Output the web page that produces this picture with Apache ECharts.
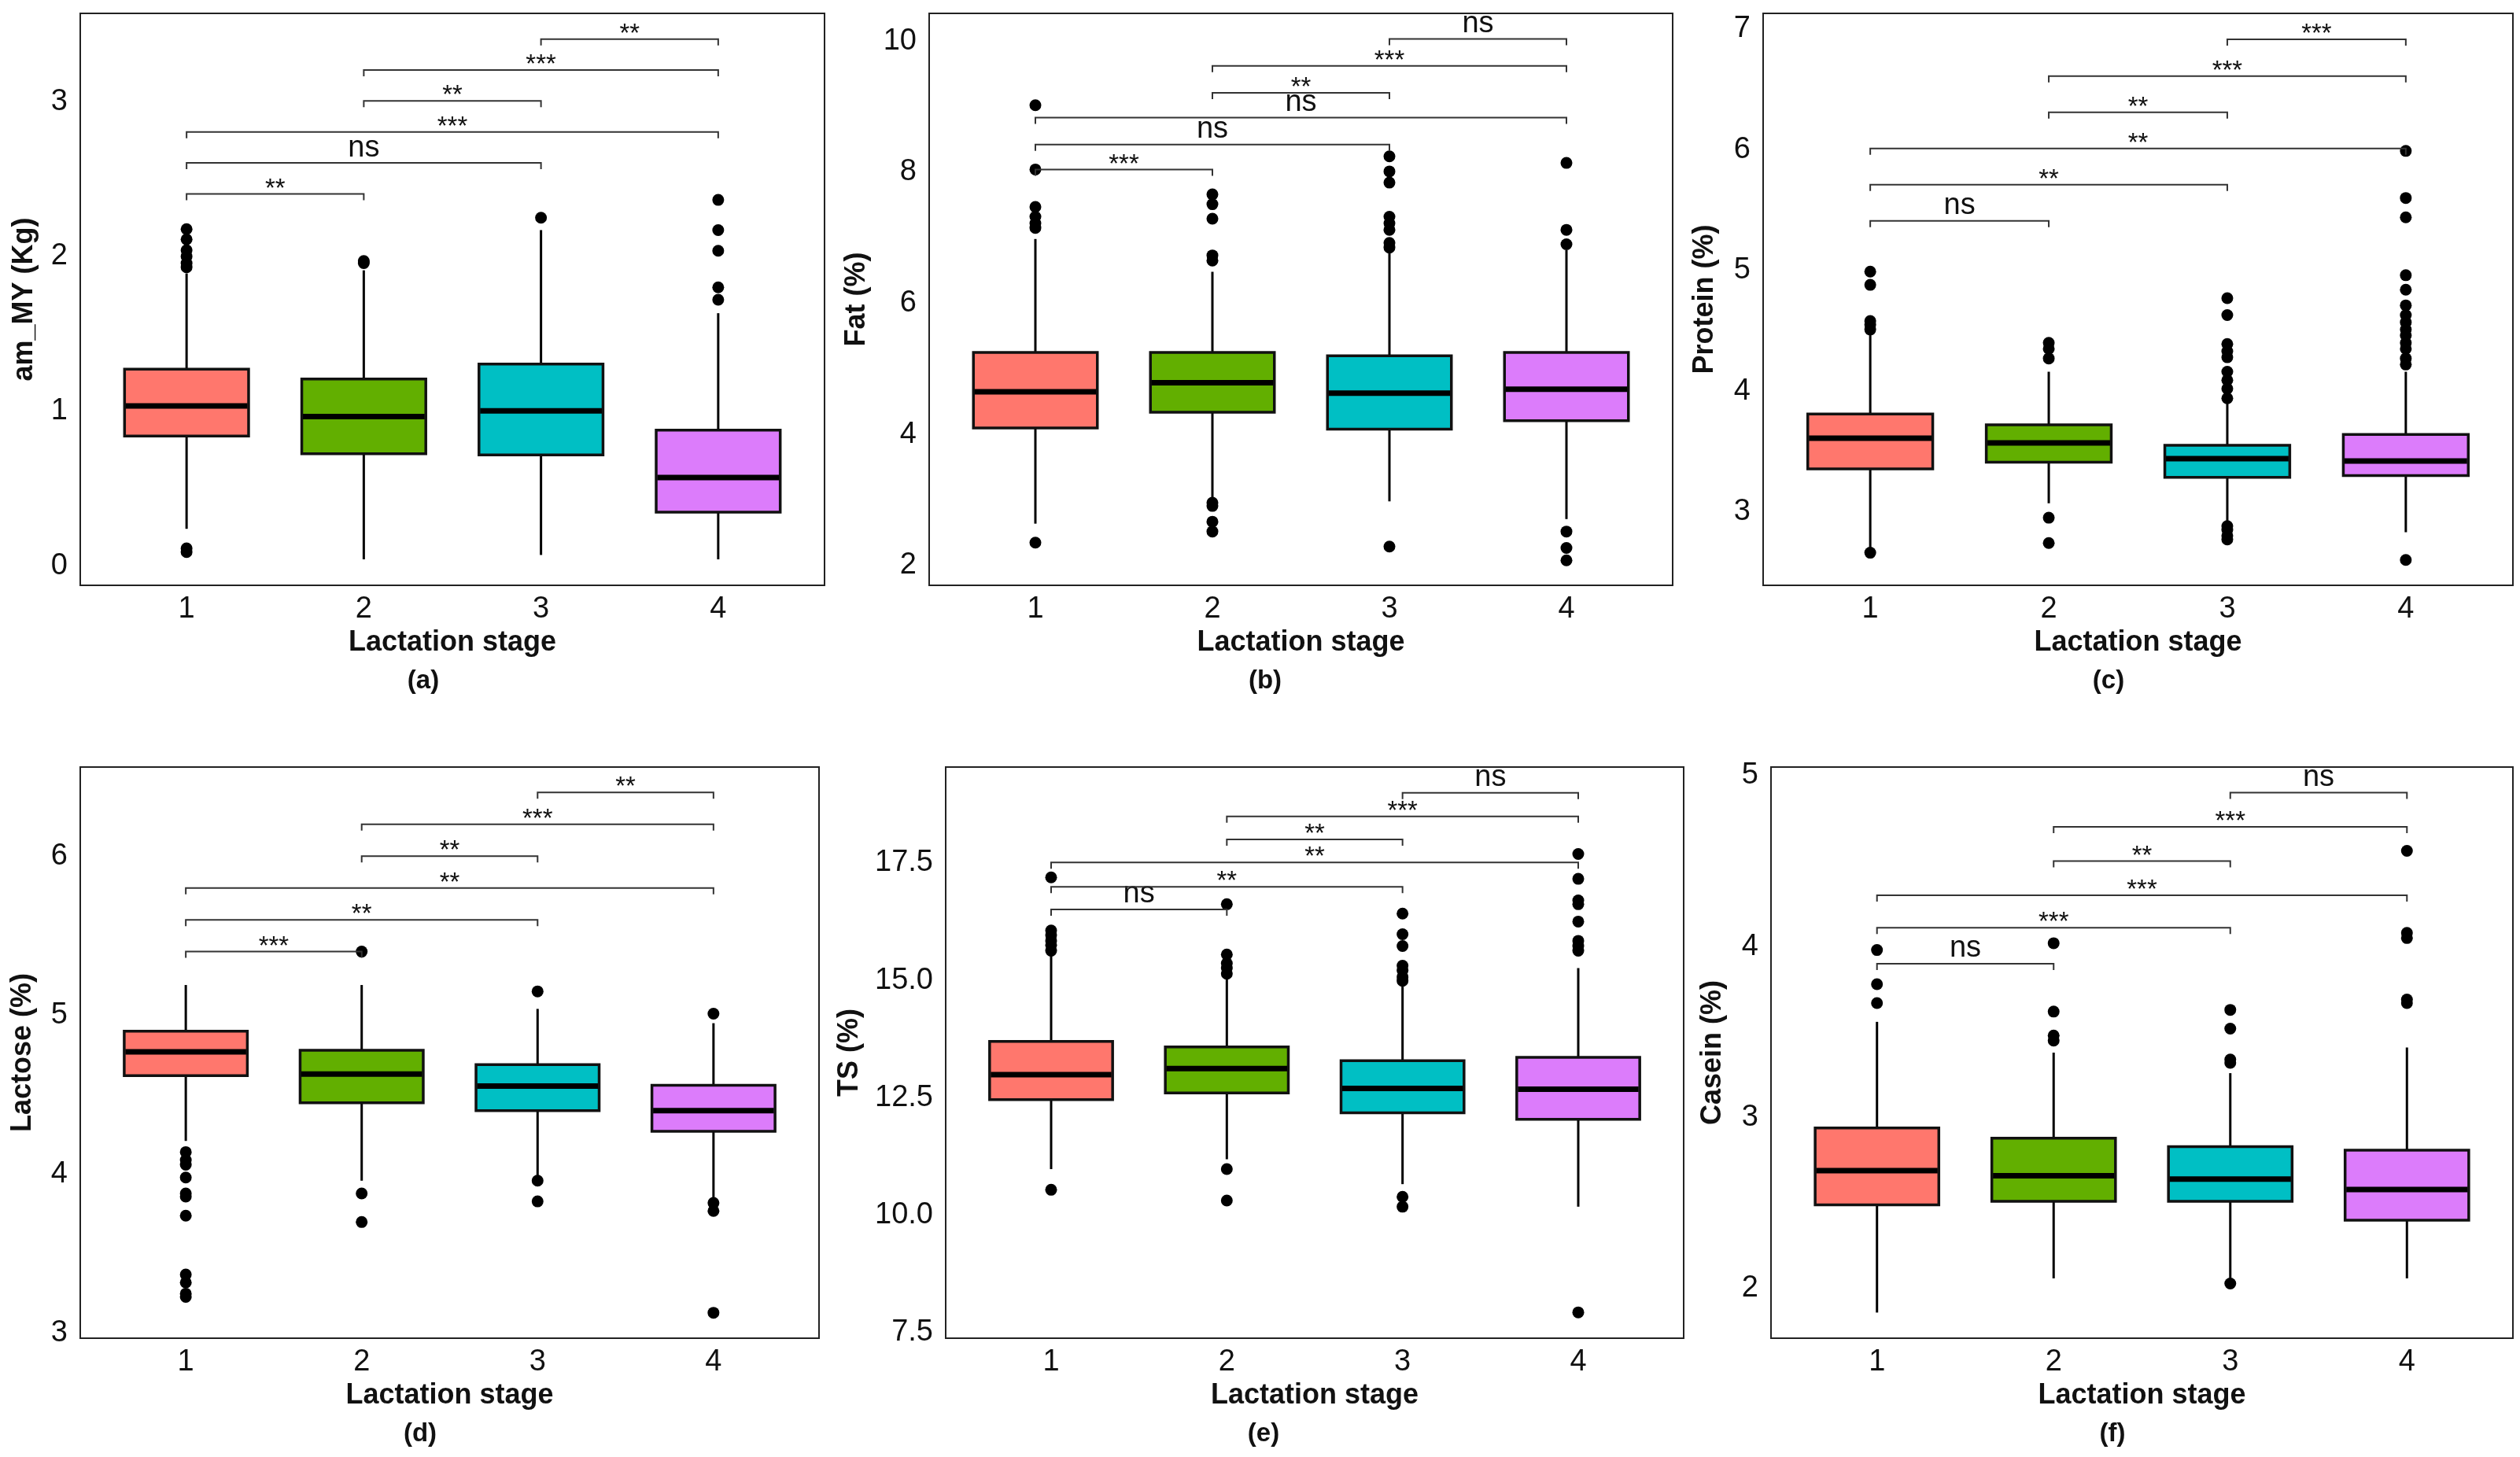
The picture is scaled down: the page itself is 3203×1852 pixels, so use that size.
<!DOCTYPE html>
<html>
<head>
<meta charset="utf-8">
<script src="https://cdn.jsdelivr.net/npm/echarts@6/dist/echarts.min.js"></script>
<style>
html,body{margin:0;padding:0;background:#fff;}
#chart{width:3203px;height:1852px;}
</style>
</head>
<body>
<div id="chart"></div>
<script>
// ---------- DATA ----------
const categories = ['1', '2', '3', '4'];
const stageColors = ['#FF776D', '#62AF00', '#00BFC4', '#DC7CFB'];

// box stats per stage: [lower whisker, Q1, median, Q3, upper whisker]
const amMY_box = [
  [0.24, 0.84, 1.034, 1.271, 1.89],
  [0.043, 0.725, 0.965, 1.208, 1.91],
  [0.071, 0.717, 1.002, 1.305, 2.17],
  [0.043, 0.348, 0.571, 0.877, 1.633]
];
const amMY_out = [
  [2.176, 2.11, 2.04, 2.0, 1.956, 1.93, 0.114, 0.09],
  [1.97, 1.956],
  [2.25],
  [1.72, 1.80, 2.036, 2.17, 2.365]
];
const amMY_sig = [[1,2,2.404,'**'],[1,3,2.604,'ns'],[1,4,2.804,'***'],[2,3,3.004,'**'],[2,4,3.204,'***'],[3,4,3.404,'**']];
const amMY_ticks = [0, 1, 2, 3];

const fat_box = [
  [2.64, 4.10, 4.65, 5.25, 6.98],
  [2.98, 4.34, 4.79, 5.25, 6.48],
  [2.98, 4.08, 4.63, 5.20, 6.81],
  [2.71, 4.21, 4.69, 5.25, 6.81]
];
const fat_out = [
  [7.15, 7.22, 7.32, 7.47, 8.04, 9.02, 2.35],
  [6.65, 6.73, 7.29, 7.51, 7.66, 2.96, 2.91, 2.67, 2.52],
  [6.85, 6.92, 7.12, 7.22, 7.32, 7.84, 8.01, 8.24, 2.29],
  [6.90, 7.12, 8.14, 2.52, 2.27, 2.08]
];
const fat_sig = [[1,2,8.04,'***'],[1,3,8.42,'ns'],[1,4,8.83,'ns'],[2,3,9.21,'**'],[2,4,9.62,'***'],[3,4,10.03,'ns']];
const fat_ticks = [2, 4, 6, 8, 10];

const protein_box = [
  [2.70, 3.355, 3.61, 3.81, 4.48],
  [3.07, 3.41, 3.57, 3.72, 4.16],
  [2.90, 3.285, 3.44, 3.55, 3.92],
  [2.83, 3.30, 3.42, 3.64, 4.16]
];
const protein_out = [
  [4.51, 4.55, 4.58, 4.88, 4.99, 2.66],
  [4.27, 4.35, 4.40, 2.95, 2.74],
  [3.94, 4.02, 4.09, 4.16, 4.28, 4.33, 4.39, 4.63, 4.77, 2.88, 2.85, 2.80, 2.77],
  [4.22, 4.27, 4.35, 4.40, 4.46, 4.51, 4.57, 4.63, 4.71, 4.84, 4.96, 5.44, 5.60, 5.99, 2.60]
];
const protein_sig = [[1,2,5.41,'ns'],[1,3,5.71,'**'],[1,4,6.01,'**'],[2,3,6.31,'**'],[2,4,6.61,'***'],[3,4,6.915,'***']];
const protein_ticks = [3, 4, 5, 6, 7];

const lactose_box = [
  [4.21, 4.62, 4.77, 4.90, 5.19],
  [3.96, 4.45, 4.63, 4.78, 5.19],
  [3.99, 4.40, 4.555, 4.69, 5.04],
  [3.85, 4.27, 4.40, 4.56, 4.95]
];
const lactose_out = [
  [4.14, 4.09, 4.06, 3.98, 3.88, 3.86, 3.74, 3.37, 3.32, 3.25, 3.23],
  [5.40, 3.88, 3.70],
  [5.15, 3.96, 3.83],
  [5.01, 3.82, 3.77, 3.13]
];
const lactose_sig = [[1,2,5.40,'***'],[1,3,5.60,'**'],[1,4,5.80,'**'],[2,3,6.00,'**'],[2,4,6.20,'***'],[3,4,6.40,'**']];
const lactose_ticks = [3, 4, 5, 6];

const ts_box = [
  [10.98, 12.46, 12.99, 13.70, 15.60],
  [11.19, 12.60, 13.12, 13.58, 15.02],
  [10.66, 12.18, 12.70, 13.29, 14.87],
  [10.18, 12.04, 12.68, 13.36, 15.26]
];
const ts_out = [
  [15.63, 15.75, 15.84, 15.96, 16.06, 17.19, 10.54],
  [15.14, 15.26, 15.36, 15.55, 16.62, 10.98, 10.31],
  [14.99, 15.07, 15.21, 15.31, 15.73, 15.98, 16.42, 10.39, 10.18],
  [15.63, 15.73, 15.84, 16.25, 16.62, 16.70, 17.16, 17.69, 7.93]
];
const ts_sig = [[1,2,16.51,'ns'],[1,3,16.99,'**'],[1,4,17.51,'**'],[2,3,18.00,'**'],[2,4,18.49,'***'],[3,4,18.99,'ns']];
const ts_ticks = [7.5, 10, 12.5, 15, 17.5];

const casein_box = [
  [1.86, 2.49, 2.69, 2.94, 3.56],
  [2.06, 2.51, 2.66, 2.88, 3.38],
  [2.06, 2.51, 2.64, 2.83, 3.26],
  [2.06, 2.40, 2.58, 2.81, 3.41]
];
const casein_out = [
  [3.67, 3.78, 3.98],
  [3.45, 3.48, 3.62, 4.02],
  [3.32, 3.34, 3.52, 3.63, 2.03],
  [3.67, 3.69, 4.05, 4.08, 4.56]
];
const casein_sig = [[1,2,3.90,'ns'],[1,3,4.11,'***'],[1,4,4.30,'***'],[2,3,4.50,'**'],[2,4,4.70,'***'],[3,4,4.90,'ns']];
const casein_ticks = [2, 3, 4, 5];

const xTitle = 'Lactation stage';

// ---------- LAYOUT ----------
const FONT = '"Liberation Sans", Arial, Helvetica, sans-serif';
const panels = [
  {name:'am_MY (Kg)', box:amMY_box, out:amMY_out, sig:amMY_sig, ticks:amMY_ticks, min:-0.125, max:3.57, dec:0,
   l:102, r:1048, t:17, b:744, gap:53, tag:'(a)', tx:538, ty:866},
  {name:'Fat (%)', box:fat_box, out:fat_out, sig:fat_sig, ticks:fat_ticks, min:1.70, max:10.42, dec:0,
   l:1181, r:2126, t:17, b:744, gap:74, tag:'(b)', tx:1608, ty:866},
  {name:'Protein (%)', box:protein_box, out:protein_out, sig:protein_sig, ticks:protein_ticks, min:2.39, max:7.13, dec:0,
   l:2241, r:3194, t:17, b:744, gap:56, tag:'(c)', tx:2680, ty:866},
  {name:'Lactose (%)', box:lactose_box, out:lactose_out, sig:lactose_sig, ticks:lactose_ticks, min:2.97, max:6.56, dec:0,
   l:102, r:1041, t:975, b:1701, gap:55, tag:'(d)', tx:534, ty:1823},
  {name:'TS (%)', box:ts_box, out:ts_out, sig:ts_sig, ticks:ts_ticks, min:7.38, max:19.54, dec:1,
   l:1202, r:2140, t:975, b:1701, gap:104, tag:'(e)', tx:1606, ty:1823},
  {name:'Casein (%)', box:casein_box, out:casein_out, sig:casein_sig, ticks:casein_ticks, min:1.71, max:5.05, dec:0,
   l:2251, r:3194, t:975, b:1701, gap:56, tag:'(f)', tx:2685, ty:1823}
];

const BOX_W = 0.7;
const xTickVals = categories.map((c, i) => i + 1);

const grid = [], xAxis = [], yAxis = [], series = [], graphic = [];

panels.forEach((p, k) => {
  grid.push({left:p.l, top:p.t, width:p.r - p.l, height:p.b - p.t,
    show:true, borderColor:'#222', borderWidth:2, backgroundColor:'transparent', containLabel:false});
  xAxis.push({
    gridIndex:k, type:'value', min:0.4, max:4.6,
    name:xTitle, nameLocation:'middle', nameGap:55,
    nameTextStyle:{fontSize:36, fontWeight:'bold', color:'#111', fontFamily:FONT},
    axisLine:{show:false}, axisTick:{show:false}, splitLine:{show:false},
    axisLabel:{customValues:xTickVals, fontSize:38, color:'#111', fontFamily:FONT, margin:12,
      formatter:(v) => categories[Math.round(v) - 1]}
  });
  yAxis.push({
    gridIndex:k, type:'value', min:p.min, max:p.max,
    name:p.name, nameLocation:'middle', nameGap:p.gap, nameRotate:90,
    nameTextStyle:{fontSize:36, fontWeight:'bold', color:'#111', fontFamily:FONT},
    axisLine:{show:false}, axisTick:{show:false}, splitLine:{show:false},
    axisLabel:{customValues:p.ticks, fontSize:38, color:'#111', fontFamily:FONT, margin:16,
      formatter:(v) => v.toFixed(p.dec)}
  });

  // boxes
  const boxData = p.box.map((b, i) => [i + 1].concat(b));
  series.push({
    type:'custom', xAxisIndex:k, yAxisIndex:k, z:2,
    encode:{x:0, y:[1,2,3,4,5]},
    data:boxData,
    renderItem:function(params, api){
      const x = api.value(0);
      const lo = api.coord([x, api.value(1)]);
      const q1 = api.coord([x, api.value(2)]);
      const md = api.coord([x, api.value(3)]);
      const q3 = api.coord([x, api.value(4)]);
      const hi = api.coord([x, api.value(5)]);
      const w = api.size([BOX_W, 0])[0];
      const cx = lo[0];
      return {type:'group', children:[
        {type:'line', shape:{x1:cx, y1:hi[1], x2:cx, y2:q3[1]}, style:{stroke:'#000', lineWidth:3}},
        {type:'line', shape:{x1:cx, y1:q1[1], x2:cx, y2:lo[1]}, style:{stroke:'#000', lineWidth:3}},
        {type:'rect', shape:{x:cx - w/2, y:q3[1], width:w, height:q1[1] - q3[1]},
          style:{fill:stageColors[params.dataIndex], stroke:'#111', lineWidth:3.5}},
        {type:'line', shape:{x1:cx - w/2 + 1.5, y1:md[1], x2:cx + w/2 - 1.5, y2:md[1]}, style:{stroke:'#000', lineWidth:7}}
      ]};
    }
  });

  // outliers
  const outData = [];
  p.out.forEach((arr, i) => arr.forEach(v => outData.push([i + 1, v])));
  series.push({
    type:'scatter', xAxisIndex:k, yAxisIndex:k, z:3,
    symbol:'circle', symbolSize:15, itemStyle:{color:'#000', opacity:1},
    data:outData, silent:true
  });

  // significance brackets
  const sig = p.sig;
  series.push({
    type:'custom', xAxisIndex:k, yAxisIndex:k, z:4,
    encode:{x:[0,2], y:1},
    data:sig.map(s => [s[0], s[2], s[1]]),
    renderItem:function(params, api){
      const s = sig[params.dataIndex];
      const a = api.coord([s[0], s[2]]);
      const b = api.coord([s[1], s[2]]);
      const tip = 8;
      const isStar = s[3].indexOf('*') >= 0;
      return {type:'group', children:[
        {type:'polyline', shape:{points:[[a[0], a[1] + tip], [a[0], a[1]], [b[0], b[1]], [b[0], b[1] + tip]]},
          style:{stroke:'#333', lineWidth:2, fill:null}},
        {type:'text', x:(a[0] + b[0]) / 2, y:a[1] - (isStar ? 6 : 19),
          style:{text:s[3], align:'center', verticalAlign:'middle',
            fontSize:isStar ? 33 : 38, fontFamily:FONT, fill:'#111'}}
      ]};
    }
  });

  graphic.push({type:'text', x:p.tx, y:p.ty,
    style:{text:p.tag, align:'center', verticalAlign:'middle', fontSize:33, fontWeight:'bold', fontFamily:FONT, fill:'#111'}});
});

const chart = echarts.init(document.getElementById('chart'), null, {renderer:'canvas'});
chart.setOption({
  backgroundColor:'#fff',
  animation:false,
  grid, xAxis, yAxis, series, graphic
});
</script>
</body>
</html>
